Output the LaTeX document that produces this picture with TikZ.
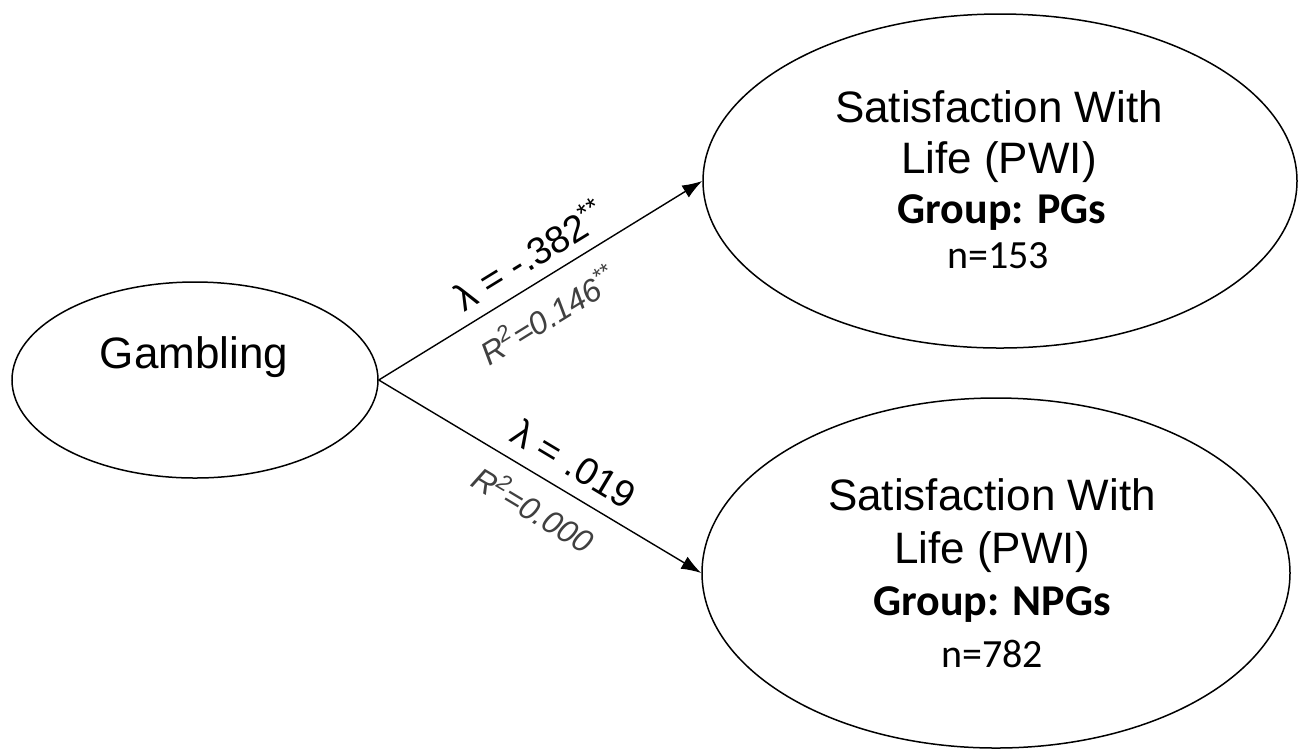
\documentclass[tikz,border=0pt]{standalone}
\usepackage{fontspec}
\setmainfont{Liberation Sans}
\newfontfamily\calib{Carlito}
\usetikzlibrary{arrows.meta,shapes.geometric}
\begin{document}
\begin{tikzpicture}[x=0.5pt,y=-0.5pt,
  ell/.style={draw, ellipse, line width=0.75pt, inner sep=0pt},
  big/.style={font=\fontsize{22}{26}\selectfont, inner sep=0pt, anchor=base},
  cal/.style={font=\calib\fontsize{20}{24}\selectfont, inner sep=0pt, anchor=base},
  calb/.style={font=\calib\bfseries\fontsize{22}{26}\selectfont, inner sep=0pt, anchor=base},
  arr/.style={-{Latex[length=10pt,width=7pt]}, line width=0.7pt},
  lam/.style={font=\fontsize{19}{22}\selectfont, inner sep=0pt, sloped},
  rsq/.style={font=\itshape\fontsize{16}{19}\selectfont, text=black!75, inner sep=0pt, sloped}]
\useasboundingbox (0,0) rectangle (1306,752);
\fill[white] (0,0) rectangle (1306,752);
\node[ell, minimum width=183pt, minimum height=98pt] (gam) at (195,380) {};
\node[ell, minimum width=297pt, minimum height=167pt] (top) at (1000,181) {};
\node[ell, minimum width=294pt, minimum height=175pt] (bot) at (996,573) {};
\node[big] (gamt) at (194,368) {Gambling};
\node[big] (t1) at (999,122) {Satisfaction With};
\node[big] (t2) at (999,173) {Life (PWI)};
\node[calb] (t3) at (1002,223) {Group: PGs};
\node[cal] (t4) at (998,268) {n=153};
\node[big] (b1) at (992,510) {Satisfaction With};
\node[big] (b2) at (992,563) {Life (PWI)};
\node[calb] (b3) at (992,615) {Group: NPGs};
\node[cal] (b4) at (992,667) {n=782};
\draw[arr] (gam.east) -- (top.west)
  node[lam, pos=0.51, above=6pt] (l1) {λ = -.382\textsuperscript{**}}
  node[rsq, pos=0.47, below=9pt] (r1) {R\textsuperscript{2}=0.146\textsuperscript{**}};
\draw[arr] (gam.east) -- (bot.west)
  node[lam, pos=0.56, above=7pt] (l2) {λ = .019}
  node[rsq, pos=0.53, below=7.5pt] (r2) {R\textsuperscript{2}=0.000};
\end{tikzpicture}
\end{document}
